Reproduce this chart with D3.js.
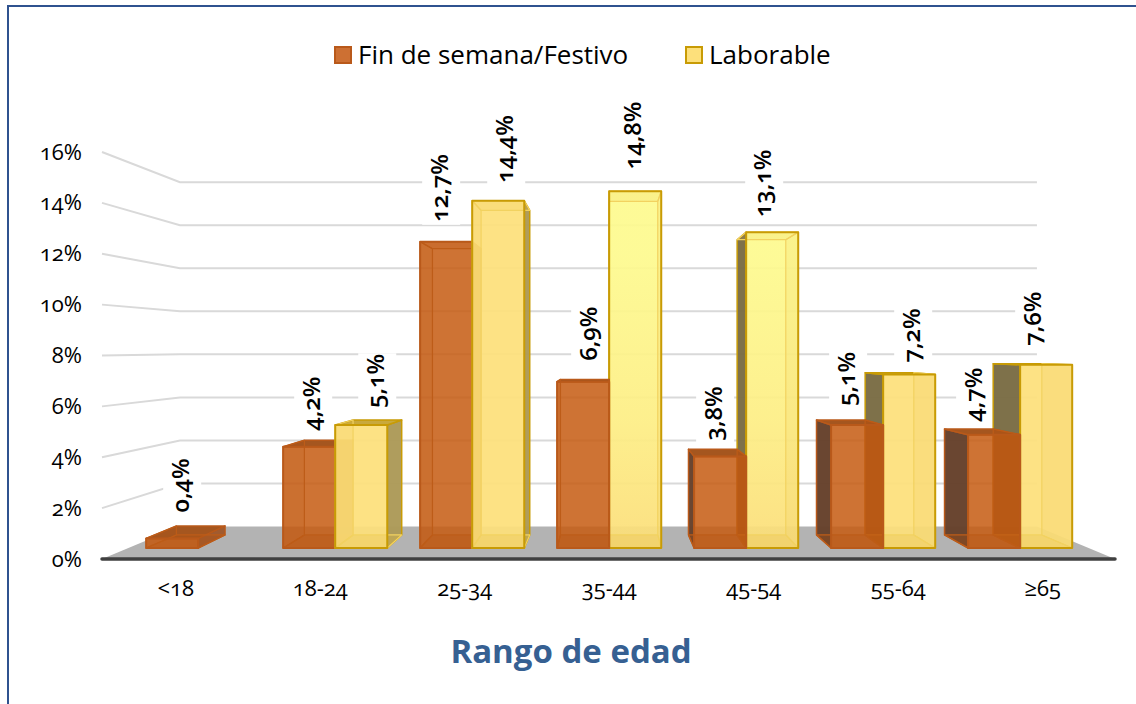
<!DOCTYPE html>
<html>
<head>
<meta charset="utf-8">
<script src="https://cdn.jsdelivr.net/npm/d3@7"></script>
<style>
    html, body { margin: 0; padding: 0; background: #fff; overflow: hidden; }
    text { font-family: 'Open Sans', 'Noto Sans', sans-serif; font-feature-settings: 'onum' 1; fill: #000; }
</style>
</head>
<body>
<div id="chart"></div>
<script>
const W = 1136, H = 704;

const AGE_GROUPS = ['<18', '18-24', '25-34', '35-44', '45-54', '55-64', '≥65'];
const FIN_SEMANA = [0.4, 4.2, 12.7, 6.9, 3.8, 5.1, 4.7];
const LABORABLE  = [null, 5.1, 14.4, 14.8, 13.1, 7.2, 7.6];
const Y_TICKS    = [0, 2, 4, 6, 8, 10, 12, 14, 16];

// hand nudges for the value labels, the original ones sit irregularly
const FIN_LABEL_DX  = [10, 4, -5, 7, -5, -9, -19];
const FIN_LABEL_GAP = [26, 16, 20, 21, 16, 19, 13];
const LAB_LABEL_DX  = [0, 16, 8, -1, -8, 4, -12];
const LAB_LABEL_GAP = [0, 17, 18, 22, 15, 12, 19];

const C_BORDER = '#2f528f';
const C_GRID   = '#d9d9d9';
const C_FLOOR  = '#b3b3b3';
const C_AXIS   = '#404040';
const C_TITLE  = '#366092';

// one-point perspective, depth is a scale factor towards the vanishing point
const VX = 608, VY = 348;
const S_BACK = 0.846, S_BAR_FRONT = 0.948, S_BAR_BACK = 0.886;
const project = (x, y, s) => [VX + (x - VX) * s, VY + (y - VY) * s];

const PLOT_L = 102, PLOT_R = 1115;
const x0 = d3.scaleBand().domain(AGE_GROUPS).range([PLOT_L + 1.5, PLOT_R]).paddingInner(0.24).paddingOuter(0.12);
const x1 = d3.scaleBand().domain(['fin', 'lab']).range([0, x0.bandwidth()]);
const y  = d3.scaleLinear().domain([0, 16]).range([559, 152]);

const pct = d3.formatLocale({ decimal: ',', thousands: '.', grouping: [3], currency: ['', ''] }).format('.1f');

const STYLES = {
    fin: { front: '#c55a11', alpha: 0.85, edge: '#b9591a', top: '#a5561f', inner: '#b4520f', innerEdge: '#bd5c18',
           outerL: '#65402a', outerR: '#a0582a', legend: '#cd7033', leftInner: 0.08, rightInner: 0.4 },
    lab: { front: '#fde07b', alpha: 0.93, edge: '#c89b05', top: '#c9a93c', inner: '#e8c04a', innerEdge: '#f2d260',
           outerL: '#7a6c44', outerR: '#ac9a58', legend: '#fde07b', leftInner: 0.12, rightInner: 0.12 }
};

const svg = d3.select('#chart').append('svg').attr('width', W).attr('height', H);

const defs = svg.append('defs');
const grad = defs.append('linearGradient').attr('id', 'brightYellow')
    .attr('gradientUnits', 'userSpaceOnUse')
    .attr('x1', 0).attr('x2', 0).attr('y1', y(12)).attr('y2', y(0));
grad.append('stop').attr('offset', 0).attr('stop-color', '#fdfa8f');
grad.append('stop').attr('offset', 0.55).attr('stop-color', '#fdee85');
grad.append('stop').attr('offset', 1).attr('stop-color', '#fbdc78');

svg.append('rect').attr('x', 8).attr('y', 6).attr('width', W + 20).attr('height', H + 20)
    .attr('fill', '#fff').attr('stroke', C_BORDER).attr('stroke-width', 2);

drawWalls();
drawAxes();
const bars = collectBars();
drawLabelBoxes(bars);
drawBars(bars);
drawLabels(bars);
drawLegend();

svg.append('text').attr('x', 571).attr('y', 663).attr('text-anchor', 'middle')
    .style('font-size', '33px').style('font-weight', 700).style('fill', C_TITLE)
    .text('Rango de edad');

function drawWalls() {
    const line = d3.line();

    Y_TICKS.filter(t => t > 0).forEach(t => {
        const back = project(PLOT_L, y(t), S_BACK);
        svg.append('path')
            .attr('d', line([[PLOT_L, y(t)], back, project(PLOT_R, y(t), S_BACK)]))
            .attr('fill', 'none').attr('stroke', C_GRID).attr('stroke-width', 2);
    });

    svg.append('path')
        .attr('d', line([[PLOT_L, y(0)], project(PLOT_L, y(0), S_BACK), project(PLOT_R, y(0), S_BACK), [PLOT_R, y(0)]]) + 'Z')
        .attr('fill', C_FLOOR);
    svg.append('line').attr('x1', PLOT_L).attr('x2', PLOT_R).attr('y1', y(0)).attr('y2', y(0))
        .attr('stroke', C_AXIS).attr('stroke-width', 3.5).attr('stroke-linecap', 'round');
}

function drawAxes() {
    const yAxis = svg.append('g').attr('transform', 'translate(92,0)')
        .call(d3.axisLeft(y).tickValues(Y_TICKS).tickFormat(d => d + '%').tickSize(0).tickPadding(10));
    const xAxis = svg.append('g').attr('transform', 'translate(0,579)')
        .call(d3.axisBottom(x0).tickSize(0).tickPadding(0));
    [yAxis, xAxis].forEach(a => {
        a.select('.domain').remove();
        a.attr('font-family', null).attr('font-size', null);
        a.selectAll('text').style('font-size', '22px');
    });
    xAxis.selectAll('text').attr('y', 0).attr('dy', '0.75em');
}

function collectBars() {
    const out = [];
    AGE_GROUPS.forEach((cat, i) => {
        [['fin', FIN_SEMANA, FIN_LABEL_DX, FIN_LABEL_GAP], ['lab', LABORABLE, LAB_LABEL_DX, LAB_LABEL_GAP]]
            .forEach(([key, values, dx, gap]) => {
                if (values[i] == null) return;
                const left = x0(cat) + x1(key);
                out.push({ cat, key, value: values[i], left, right: left + x1.bandwidth(),
                           dx: dx[i], gap: gap[i] });
            });
    });
    // the bars furthest from the vanishing point go first
    return out.sort((a, b) => Math.abs((b.left + b.right) / 2 - VX) - Math.abs((a.left + a.right) / 2 - VX));
}

function frontTop(d) {
    return project(d.left, y(d.value), S_BAR_FRONT)[1];
}

function labelAnchor(d) {
    const l = project(d.left, y(d.value), S_BAR_FRONT)[0];
    const r = project(d.right, y(d.value), S_BAR_FRONT)[0];
    return [(l + r) / 2 + d.dx, frontTop(d) - d.gap];
}

function drawLabelBoxes(data) {
    svg.append('g').attr('class', 'label-boxes').selectAll('rect').data(data).enter().append('rect')
        .attr('fill', '#fff')
        .attr('x', d => labelAnchor(d)[0] - 19)
        .attr('y', d => labelAnchor(d)[1] - (pct(d.value).length + 1) * 13.2 - 2)
        .attr('width', 38)
        .attr('height', d => (pct(d.value).length + 1) * 13.2 + 5);
}

function drawBars(data) {
    const line = d3.line();
    data.forEach(d => {
        const st = STYLES[d.key];
        const yT = y(d.value), yB = y(0);
        const f = (x, yy) => project(x, yy, S_BAR_FRONT);
        const b = (x, yy) => project(x, yy, S_BAR_BACK);
        const isLeft = (d.left + d.right) / 2 < VX - 1;
        const isBright = d.key === 'lab' && (d.cat === '35-44' || d.cat === '45-54');
        const topVisible = yT > VY;  // above eye level the top face is only seen through the front

        const g = svg.append('g');
        const face = (pts, fill, opacity, edge, width) => g.append('path')
            .attr('d', line(pts) + 'Z')
            .attr('fill', fill).attr('fill-opacity', opacity)
            .attr('stroke', edge).attr('stroke-width', width).attr('stroke-linejoin', 'round');

        const leftFace  = [f(d.left, yB), b(d.left, yB), b(d.left, yT), f(d.left, yT)];
        const rightFace = [f(d.right, yB), b(d.right, yB), b(d.right, yT), f(d.right, yT)];
        const topFace   = [f(d.left, yT), b(d.left, yT), b(d.right, yT), f(d.right, yT)];
        const bottom    = [f(d.left, yB), b(d.left, yB), b(d.right, yB), f(d.right, yB)];
        const frontFace = [f(d.left, yB), f(d.left, yT), f(d.right, yT), f(d.right, yB)];

        face(isLeft ? rightFace : leftFace, isLeft ? st.outerR : st.outerL, 0.97, st.edge, 1.5);
        if (topVisible) face(topFace, st.top, 1, st.edge, 1.5);
        face(frontFace, isBright ? 'url(#brightYellow)' : st.front, st.alpha, 'none', 0);

        // inner faces shine through the translucent front
        face(bottom, st.inner, 0.3, st.innerEdge, 1.2);
        face(isLeft ? leftFace : rightFace, st.inner, isLeft ? st.leftInner : st.rightInner, st.innerEdge, 1.2);
        if (!topVisible) face(topFace, st.inner, 0.15, st.innerEdge, 1.2);
        face(frontFace, 'none', 0, st.edge, 2);
    });
}

function drawLabels(data) {
    svg.append('g').selectAll('text').data(data).enter().append('text')
        .attr('transform', d => {
            const [lx, ly] = labelAnchor(d);
            return `translate(${lx - 2},${ly}) rotate(-90)`;
        })
        .attr('dy', '0.35em')
        .style('font-size', '24px').style('font-weight', 600)
        .text(d => pct(d.value) + '%');
}

function drawLegend() {
    const items = [
        ['Fin de semana/Festivo', 'fin', 335],
        ['Laborable', 'lab', 686]
    ];
    items.forEach(([label, key, lx]) => {
        const g = svg.append('g').attr('transform', `translate(${lx},47)`);
        g.append('rect').attr('width', 16).attr('height', 16)
            .attr('fill', STYLES[key].legend).attr('stroke', STYLES[key].edge).attr('stroke-width', 2);
        g.append('text').attr('x', 23).attr('y', 17).style('font-size', '26px').text(label);
    });
}
</script>
</body>
</html>
